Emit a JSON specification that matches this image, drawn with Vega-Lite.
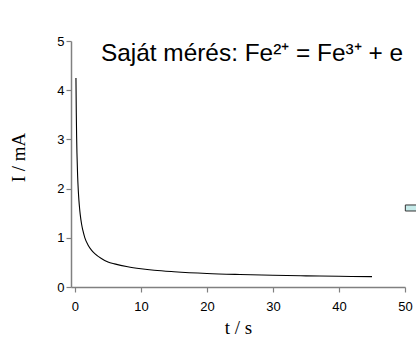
{
  "$schema": "https://vega.github.io/schema/vega-lite/v6.json",
  "autosize": {"type": "none"},
  "padding": {"left": 71, "top": 41, "right": 11, "bottom": 51},
  "width": 334,
  "height": 246,
  "background": "white",
  "config": {"view": {"stroke": null}},
  "title": {
    "text": "Saját mérés: Fe²⁺ = Fe³⁺ + e",
    "anchor": "start",
    "frame": "group",
    "dx": 30,
    "dy": 31,
    "offset": -19,
    "baseline": "alphabetic",
    "font": "Liberation Sans",
    "fontSize": 24.4,
    "fontWeight": "normal",
    "color": "black"
  },
  "datasets": {
    "curve": [
      {"t": 0.15, "I": 4.25},
      {"t": 0.2, "I": 3.55},
      {"t": 0.25, "I": 3.07},
      {"t": 0.3, "I": 2.73},
      {"t": 0.4, "I": 2.27},
      {"t": 0.5, "I": 1.97},
      {"t": 0.6, "I": 1.76},
      {"t": 0.7, "I": 1.6},
      {"t": 0.8, "I": 1.47},
      {"t": 1.0, "I": 1.28},
      {"t": 1.2, "I": 1.15},
      {"t": 1.5, "I": 1.0},
      {"t": 2.0, "I": 0.85},
      {"t": 2.5, "I": 0.75},
      {"t": 3.0, "I": 0.68},
      {"t": 4, "I": 0.58},
      {"t": 5, "I": 0.51},
      {"t": 6, "I": 0.47},
      {"t": 8, "I": 0.41},
      {"t": 10, "I": 0.37},
      {"t": 12, "I": 0.34},
      {"t": 15, "I": 0.31},
      {"t": 20, "I": 0.275},
      {"t": 25, "I": 0.254},
      {"t": 30, "I": 0.238},
      {"t": 35, "I": 0.227},
      {"t": 40, "I": 0.217},
      {"t": 45, "I": 0.21}
    ],
    "box": [
      {"x": 50.05, "x2": 52, "y": 1.545, "y2": 1.667}
    ]
  },
  "layer": [
    {
      "data": {"name": "curve"},
      "mark": {"type": "line", "color": "black", "strokeWidth": 1.1, "interpolate": "monotone"},
      "encoding": {
        "x": {
          "field": "t",
          "type": "quantitative",
          "scale": {"domain": [-0.6, 50], "nice": false, "zero": false},
          "axis": {
            "title": "t / s",
            "values": [0, 5, 10, 15, 20, 25, 30, 35, 40, 45, 50],
            "labelExpr": "datum.value % 10 === 0 ? datum.label : ''",
            "grid": false,
            "domainColor": "#808080",
            "domainWidth": 1.5,
            "tickColor": "#808080",
            "tickWidth": 1.2,
            "tickSize": {"condition": {"test": "datum.value % 10 !== 0", "value": 3}, "value": 5},
            "labelFont": "Liberation Sans",
            "labelFontSize": 13,
            "labelColor": "black",
            "labelPadding": 8,
            "labelFlush": false,
            "titleFont": "Liberation Serif",
            "titleFontSize": 19,
            "titleFontWeight": "normal",
            "titleColor": "black",
            "titleY": 46,
            "titleBaseline": "alphabetic"
          }
        },
        "y": {
          "field": "I",
          "type": "quantitative",
          "scale": {"domain": [0, 5], "nice": false},
          "axis": {
            "title": "I / mA",
            "values": [0, 0.5, 1, 1.5, 2, 2.5, 3, 3.5, 4, 4.5, 5],
            "labelExpr": "datum.value % 1 === 0 ? datum.label : ''",
            "grid": false,
            "domainColor": "#808080",
            "domainWidth": 1.5,
            "tickColor": "#808080",
            "tickWidth": 1.2,
            "tickSize": {"condition": {"test": "datum.value % 1 !== 0", "value": 3}, "value": 5},
            "labelFont": "Liberation Sans",
            "labelFontSize": 13,
            "labelColor": "black",
            "labelPadding": 2,
            "titleFont": "Liberation Serif",
            "titleFontSize": 19,
            "titleFontWeight": "normal",
            "titleColor": "black",
            "titleAngle": -90,
            "titleX": -53,
            "titleY": 116,
            "titleBaseline": "middle",
            "titleAlign": "center"
          }
        }
      }
    },
    {
      "data": {"name": "box"},
      "mark": {"type": "rect", "fill": "#c6ebea", "stroke": "#333333", "strokeWidth": 1, "clip": false},
      "encoding": {
        "x": {"field": "x", "type": "quantitative"},
        "x2": {"field": "x2"},
        "y": {"field": "y", "type": "quantitative"},
        "y2": {"field": "y2"}
      }
    }
  ]
}
